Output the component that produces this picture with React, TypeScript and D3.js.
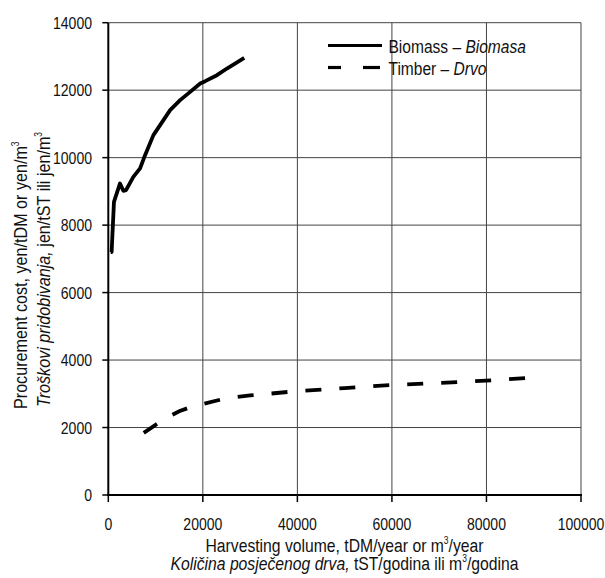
import React from "react";
import * as d3 from "d3";

const biomassX = [500, 700, 1200, 2480, 3180, 3750, 5300, 6720, 7780, 9540, 10960, 13080, 15200, 17320, 19440, 20500, 22980, 25100, 28760];
const biomassY = [7200, 7200, 8690, 9235, 9016, 9037, 9430, 9680, 10074, 10667, 10963, 11407, 11704, 11950, 12198, 12267, 12444, 12642, 12958];

const timberX = [7500, 10000, 12500, 15000, 17500, 20000, 25000, 30000, 40000, 50000, 60000, 70000, 80000, 89000];
const timberY = [1840, 2080, 2300, 2480, 2610, 2700, 2870, 2950, 3080, 3170, 3260, 3320, 3390, 3470];

const xTicks = [0, 20000, 40000, 60000, 80000, 100000];
const yTicks = [0, 2000, 4000, 6000, 8000, 10000, 12000, 14000];

const legendLabels = [
  { en: "Biomass – ", hr: "Biomasa" },
  { en: "Timber – ", hr: "Drvo" },
];

const FONT = "'Liberation Sans', Arial, sans-serif";
const SX = 0.85;

function NT(props: { x: number; y: number; rot?: number; anchor?: string; size: number; children: React.ReactNode }) {
  const { x, y, rot = 0, anchor = "start", size, children } = props;
  return (
    <g transform={`translate(${x},${y}) rotate(${rot}) scale(${SX},1)`}>
      <text x={0} y={0} textAnchor={anchor} fontSize={size} fill="#111">{children}</text>
    </g>
  );
}

export default function App() {
  const W = 605, H = 578;
  const L = 108.3, R = 581, T = 22.7, B = 495;
  const x = d3.scaleLinear().domain([0, 100000]).range([L, R]);
  const y = d3.scaleLinear().domain([0, 14000]).range([B, T]);
  const line = d3.line<[number, number]>().x(d => x(d[0])).y(d => y(d[1]));
  const bio = biomassX.map((v, i) => [v, biomassY[i]] as [number, number]);
  const tim = timberX.map((v, i) => [v, timberY[i]] as [number, number]);

  return (
    <svg width={W} height={H} style={{ position: "absolute", left: 0, top: 0, background: "#fff" }} fontFamily={FONT}>
      <rect x={0} y={0} width={W} height={H} fill="#fff" />
      {/* grid */}
      {xTicks.slice(1).map(t => (
        <line key={"gx" + t} x1={x(t)} x2={x(t)} y1={T} y2={B} stroke="#444" strokeWidth={1} />
      ))}
      {yTicks.slice(1).map(t => (
        <line key={"gy" + t} x1={L} x2={R} y1={y(t)} y2={y(t)} stroke="#444" strokeWidth={1} />
      ))}
      {/* axes */}
      <line x1={L} x2={L} y1={T} y2={B + 1} stroke="#000" strokeWidth={2} />
      <line x1={L - 1} x2={R + 1} y1={B} y2={B} stroke="#000" strokeWidth={2} />
      {yTicks.map(t => (
        <g key={"yt" + t}>
          <line x1={L - 6} x2={L} y1={y(t)} y2={y(t)} stroke="#000" strokeWidth={1.5} />
          <NT x={92} y={y(t) + 6.3} anchor="end" size={16.5}>{t}</NT>
        </g>
      ))}
      {xTicks.map(t => (
        <g key={"xt" + t}>
          <line x1={x(t)} x2={x(t)} y1={B} y2={B + 7} stroke="#000" strokeWidth={1.5} />
          <NT x={x(t)} y={530} anchor="middle" size={16.5}>{t}</NT>
        </g>
      ))}
      {/* series */}
      <path d={line(bio) || ""} fill="none" stroke="#000" strokeWidth={3.8} strokeLinejoin="round" />
      <path d={line(tim) || ""} fill="none" stroke="#000" strokeWidth={3.8} strokeDasharray="16 18" />
      {/* legend */}
      <line x1={328} x2={382} y1={45.5} y2={45.5} stroke="#000" strokeWidth={3.2} />
      <line x1={328} x2={341} y1={67.5} y2={67.5} stroke="#000" strokeWidth={3.2} />
      <line x1={363} x2={380} y1={67.5} y2={67.5} stroke="#000" strokeWidth={3.2} />
      {legendLabels.map((d, i) => (
        <NT key={i} x={388.5} y={52.7 + i * 22.3} size={18.3}>
          {d.en}<tspan fontStyle="italic">{d.hr}</tspan>
        </NT>
      ))}
      {/* x title */}
      <NT x={344.5} y={552} anchor="middle" size={18.5}>
        Harvesting volume, tDM/year or m<tspan fontSize={10} dy={-8}>3</tspan><tspan dy={8}>/year</tspan>
      </NT>
      <NT x={344.5} y={570} anchor="middle" size={18.5}>
        <tspan fontStyle="italic">Količina posječenog drva,</tspan> tST/godina ili m<tspan fontSize={10} dy={-8}>3</tspan><tspan dy={8}>/godina</tspan>
      </NT>
      {/* y title */}
      <NT x={27} y={409} rot={-90} anchor="start" size={19}>
        Procurement cost, yen/tDM or yen/m<tspan fontSize={10} dy={-8}>3</tspan>
      </NT>
      <NT x={50} y={407} rot={-90} anchor="start" size={19}>
        <tspan fontStyle="italic">Troškovi pridobivanja,</tspan> jen/tST ili jen/m<tspan fontSize={10} dy={-8}>3</tspan>
      </NT>
    </svg>
  );
}
